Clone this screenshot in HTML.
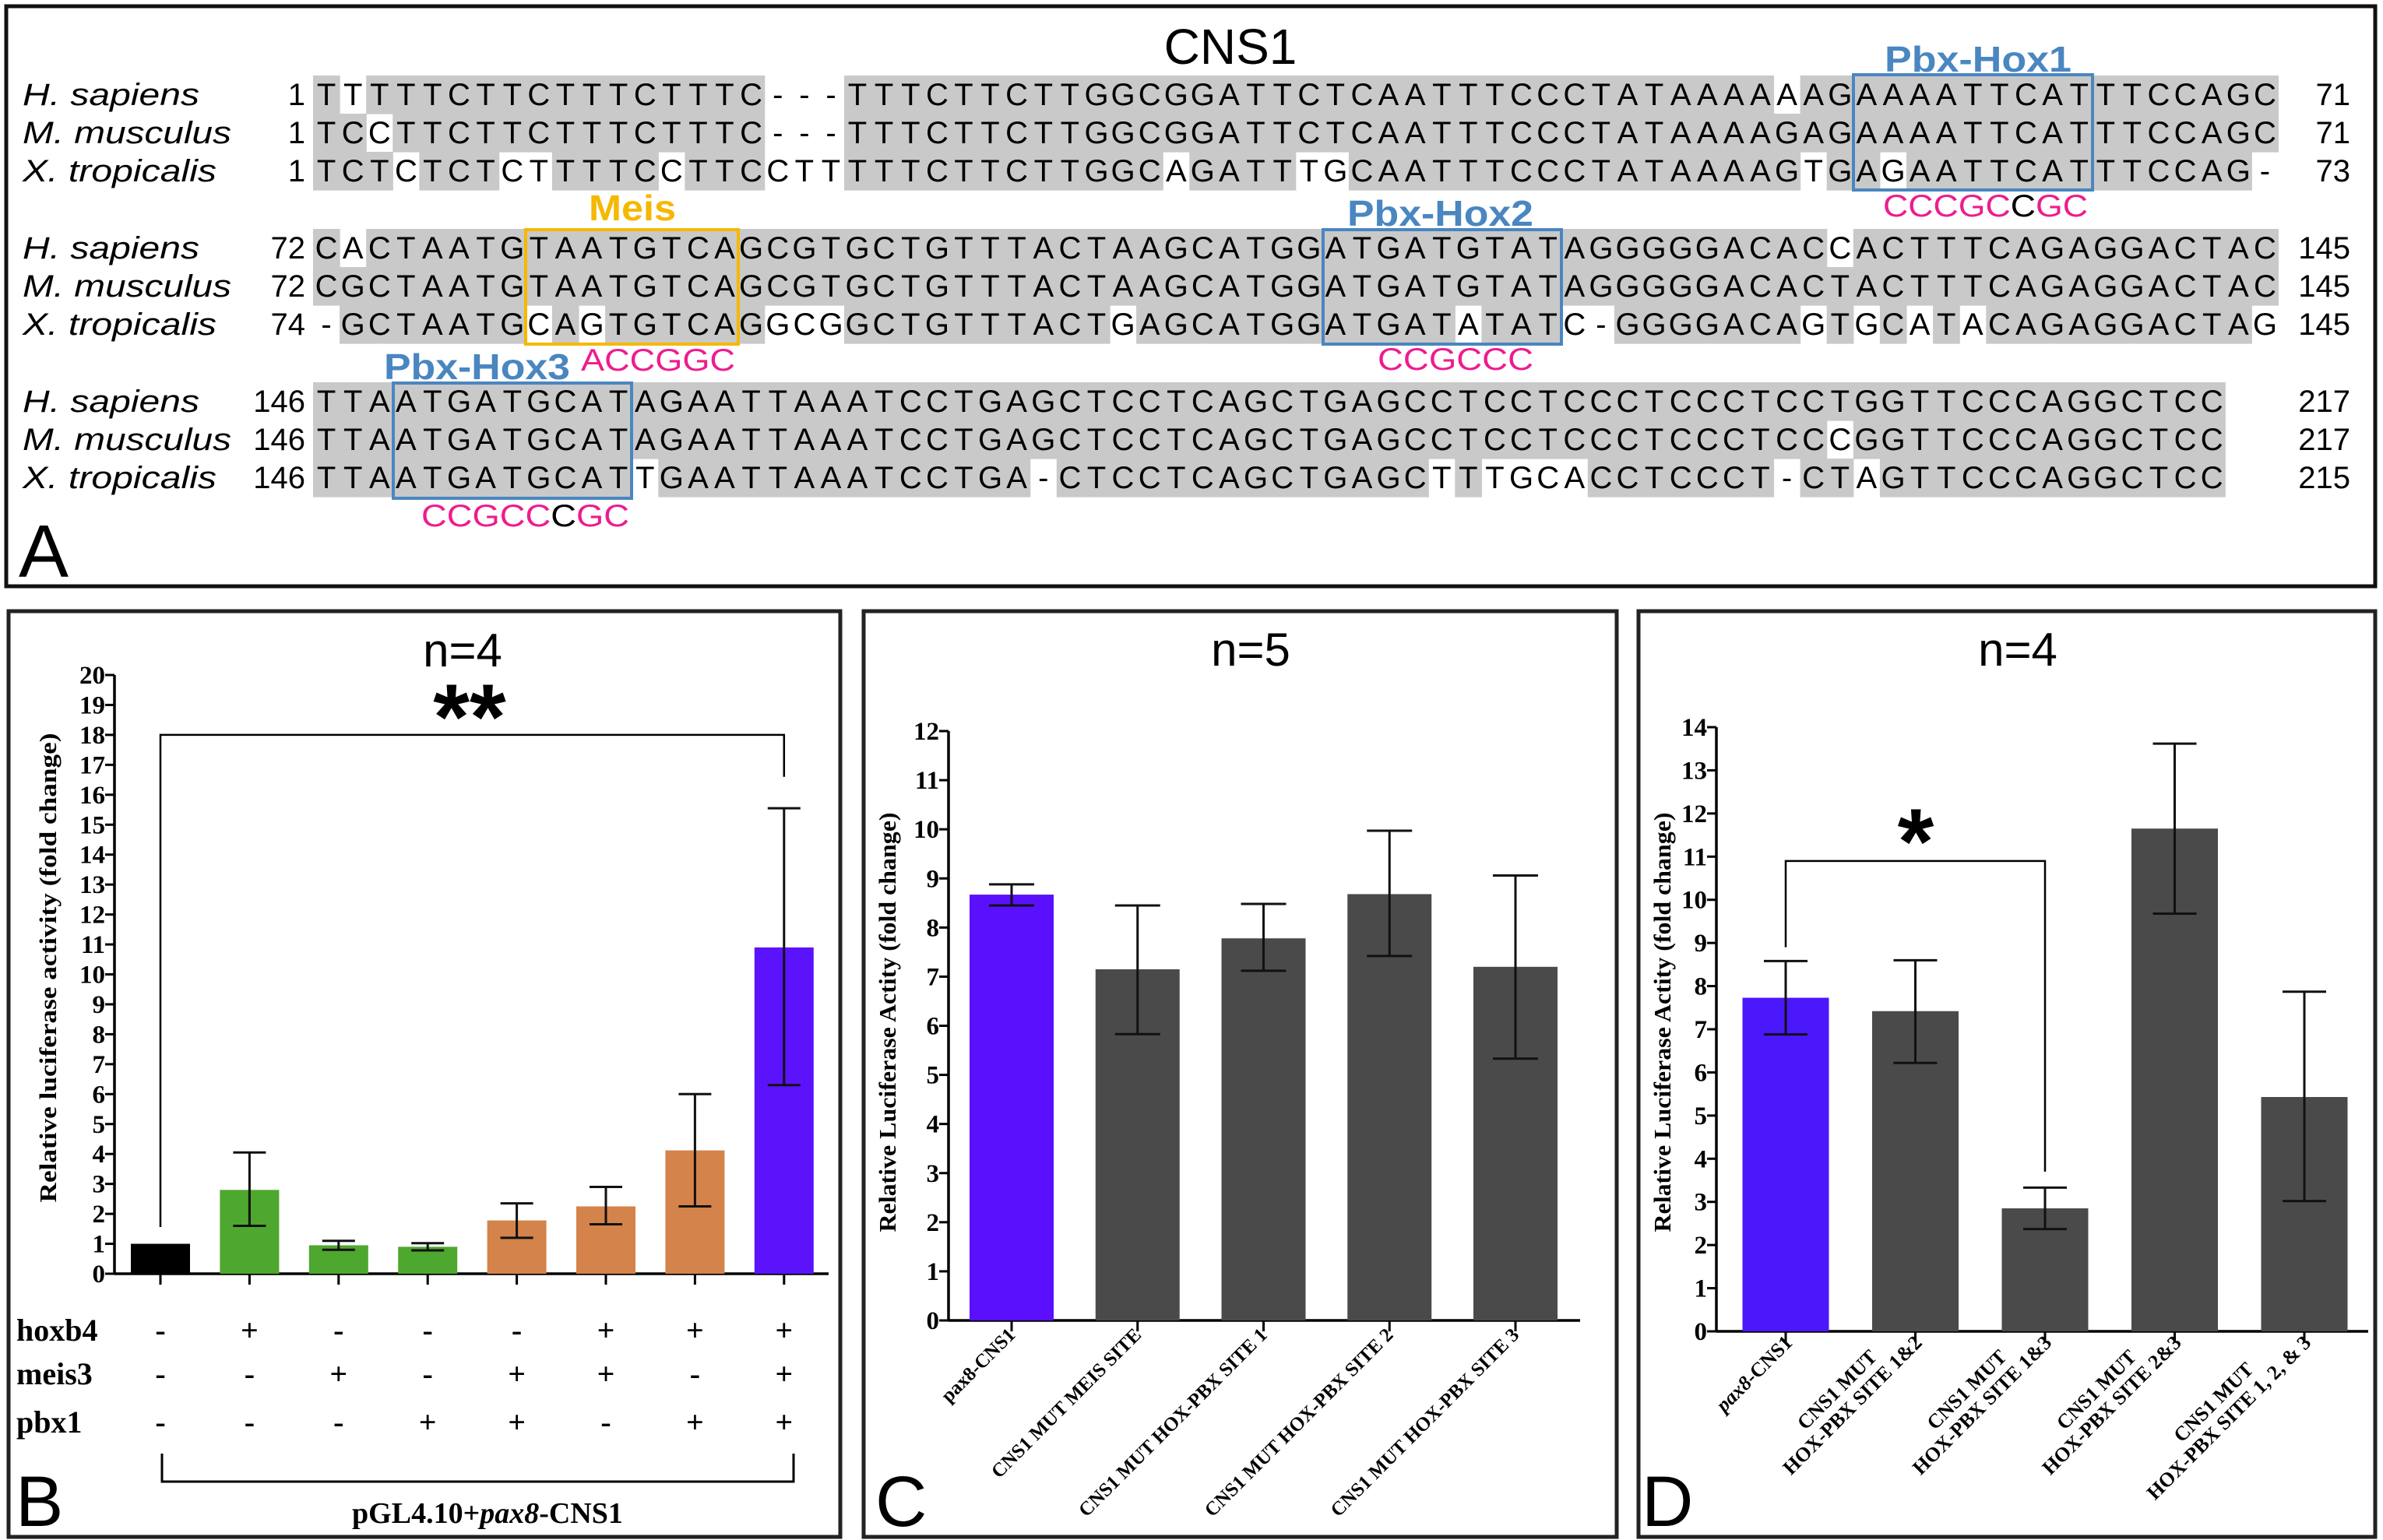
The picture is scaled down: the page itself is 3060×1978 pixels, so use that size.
<!DOCTYPE html>
<html><head><meta charset="utf-8"><style>
html,body{margin:0;padding:0;background:#fff;}
svg{display:block;}
.seq{font-family:"Liberation Sans",sans-serif;font-size:40px;}
.ser{font-family:"Liberation Serif",serif;font-weight:bold;}
.sans{font-family:"Liberation Sans",sans-serif;}
</style></head><body>
<svg id="fig" width="3060" height="1978" viewBox="0 0 3060 1978" xmlns="http://www.w3.org/2000/svg">
<rect x="0" y="0" width="3060" height="1978" fill="#fff"/>
<!-- Panel A -->
<g id="panelA">
<rect x="8" y="8" width="3042" height="745" fill="none" stroke="#111" stroke-width="5"/>
<text x="1580" y="82" class="sans" font-size="64" text-anchor="middle">CNS1</text>
<text x="24" y="741" class="sans" font-size="96">A</text>
<g id="seqLayer"></g>
<rect x="2380" y="96" width="307" height="148" fill="none" stroke="#4a86c0" stroke-width="4"/>
<text x="2420" y="92" class="sans" font-weight="bold" font-size="46" fill="#4a86c0" textLength="240" lengthAdjust="spacingAndGlyphs">Pbx-Hox1</text>
<text x="2418" y="278" class="sans" font-size="40" fill="#ee1c8e" textLength="263" lengthAdjust="spacingAndGlyphs">CCCGC<tspan fill="#000">C</tspan>GC</text>
<rect x="675" y="295" width="273" height="147" fill="none" stroke="#f5b800" stroke-width="4"/>
<text x="756" y="283" class="sans" font-weight="bold" font-size="46" fill="#f5b800" textLength="112" lengthAdjust="spacingAndGlyphs">Meis</text>
<text x="746" y="476" class="sans" font-size="40" fill="#ee1c8e" textLength="198" lengthAdjust="spacingAndGlyphs">ACCGGC</text>
<rect x="1699" y="295" width="306" height="147" fill="none" stroke="#4a86c0" stroke-width="4"/>
<text x="1730" y="290" class="sans" font-weight="bold" font-size="46" fill="#4a86c0" textLength="239" lengthAdjust="spacingAndGlyphs">Pbx-Hox2</text>
<text x="1769" y="475" class="sans" font-size="40" fill="#ee1c8e" textLength="200" lengthAdjust="spacingAndGlyphs">CCGCCC</text>
<rect x="505" y="492" width="306" height="148" fill="none" stroke="#4a86c0" stroke-width="4"/>
<text x="493" y="487" class="sans" font-weight="bold" font-size="46" fill="#4a86c0" textLength="239" lengthAdjust="spacingAndGlyphs">Pbx-Hox3</text>
<text x="541" y="676" class="sans" font-size="40" fill="#ee1c8e" textLength="267" lengthAdjust="spacingAndGlyphs">CCGCC<tspan fill="#000">C</tspan>GC</text>
</g>
<!-- Panel B -->
<g id="panelB">
<rect x="11" y="785" width="1068" height="1189" fill="none" stroke="#222" stroke-width="5"/>
<text x="594" y="856" class="sans" font-size="60" text-anchor="middle">n=4</text>
<text x="20" y="1960" class="sans" font-size="92">B</text>
</g>
<g id="panelC">
<rect x="1109" y="785" width="967" height="1189" fill="none" stroke="#222" stroke-width="5"/>
<text x="1606" y="855" class="sans" font-size="60" text-anchor="middle">n=5</text>
<text x="1124" y="1960" class="sans" font-size="92">C</text>
</g>
<g id="panelD">
<rect x="2104" y="785" width="946" height="1189" fill="none" stroke="#222" stroke-width="5"/>
<text x="2591" y="855" class="sans" font-size="60" text-anchor="middle">n=4</text>
<text x="2108" y="1960" class="sans" font-size="92">D</text>
</g>
</svg>
<script>
const NS='http://www.w3.org/2000/svg';
// ---------- Alignment data ----------
const species=['H. sapiens','M. musculus','X. tropicalis'];
const speciesLen=[227,268,249];
const block1=['TTTTTCTTCTTTCTTTC---TTTCTTCTTGGCGGATTCTCAATTTCCCTATAAAAAAGAAAATTCATTTCCAGC',
'TCCTTCTTCTTTCTTTC---TTTCTTCTTGGCGGATTCTCAATTTCCCTATAAAAGAGAAAATTCATTTCCAGC',
'TCTCTCTCTTTTCCTTCCTTTTTCTTCTTGGCAGATTTGCAATTTCCCTATAAAAGTGAGAATTCATTTCCAG-'];
const block2=['CACTAATGTAATGTCAGCGTGCTGTTTACTAAGCATGGATGATGTATAGGGGGACACCACTTTCAGAGGACTAC',
'CGCTAATGTAATGTCAGCGTGCTGTTTACTAAGCATGGATGATGTATAGGGGGACACTACTTTCAGAGGACTAC',
'-GCTAATGCAGTGTCAGGCGGCTGTTTACTGAGCATGGATGATATATC-GGGGACAGTGCATACAGAGGACTAG'];
const block3=['TTAATGATGCATAGAATTAAATCCTGAGCTCCTCAGCTGAGCCTCCTCCCTCCCTCCTGGTTCCCAGGCTCC',
'TTAATGATGCATAGAATTAAATCCTGAGCTCCTCAGCTGAGCCTCCTCCCTCCCTCCCGGTTCCCAGGCTCC',
'TTAATGATGCATTGAATTAAATCCTGA-CTCCTCAGCTGAGCTTTGCACCTCCCT-CTAGTTCCCAGGCTCC'];
const startNums=[['1','1','1'],['72','72','74'],['146','146','146']];
const endNums=[['71','71','73'],['145','145','145'],['217','217','215']];
const blocks=[block1,block2,block3];
const blockTops=[97,294,491];
const CW=34.1, SX=402, RH=49;
const seqLayer=document.getElementById('seqLayer');
blocks.forEach((blk,b)=>{
  const top=blockTops[b];
  blk.forEach((seq,r)=>{
    const y=top+r*RH;
    for(let c=0;c<seq.length;c++){
      const ch=seq[c];
      let shade=false;
      if(ch!=='-'){for(let o=0;o<blk.length;o++){if(o!==r&&blk[o][c]===ch)shade=true;}}
      if(shade){
        const rc=document.createElementNS(NS,'rect');
        rc.setAttribute('x',SX+c*CW);rc.setAttribute('y',y);
        rc.setAttribute('width',CW+0.6);rc.setAttribute('height',RH+0.6);
        rc.setAttribute('fill','#c9c9c9');
        
        
        seqLayer.appendChild(rc);
      }
    }
    const t=document.createElementNS(NS,'text');
    t.setAttribute('class','seq');
    t.setAttribute('y',y+38);
    t.setAttribute('x',Array.from(seq).map((_,c)=>(SX+c*CW+CW/2).toFixed(1)).join(' '));
    t.setAttribute('text-anchor','middle');
    t.textContent=seq;
    
    
    seqLayer.appendChild(t);
    const sp=document.createElementNS(NS,'text');
    sp.setAttribute('class','seq');sp.setAttribute('font-style','italic');
    sp.setAttribute('x',29);sp.setAttribute('y',y+38);
    sp.setAttribute('textLength',speciesLen[r]);sp.setAttribute('lengthAdjust','spacingAndGlyphs');
    sp.textContent=species[r];
    
    
    seqLayer.appendChild(sp);
    const sn=document.createElementNS(NS,'text');
    sn.setAttribute('class','seq');sn.setAttribute('x',392);sn.setAttribute('y',y+38);
    sn.setAttribute('text-anchor','end');sn.textContent=startNums[b][r];
    
    
    seqLayer.appendChild(sn);
    const en=document.createElementNS(NS,'text');
    en.setAttribute('class','seq');en.setAttribute('x',3018);en.setAttribute('y',y+38);
    en.setAttribute('text-anchor','end');en.textContent=endNums[b][r];
    
    
    seqLayer.appendChild(en);
  });
});

// ---------- Chart data ----------
const bCats=['control','hoxb4','meis3','pbx1','meis3+pbx1','hoxb4+meis3','hoxb4+pbx1','hoxb4+meis3+pbx1'];
const bVals=[1.0,2.8,0.95,0.9,1.78,2.25,4.12,10.9];
const bLow=[1.0,1.6,0.8,0.78,1.2,1.65,2.25,6.3];
const bHigh=[1.0,4.05,1.1,1.02,2.35,2.9,6.0,15.55];
const bTicks=['0','1','2','3','4','5','6','7','8','9','10','11','12','13','14','15','16','17','18','19','20'];
const bHoxb4=['-','+','-','-','-','+','+','+'];
const bMeis3=['-','-','+','-','+','+','-','+'];
const bPbx1=['-','-','-','+','+','-','+','+'];

const cCats=['pax8-CNS1','CNS1 MUT MEIS SITE','CNS1 MUT HOX-PBX SITE 1','CNS1 MUT HOX-PBX SITE 2','CNS1 MUT HOX-PBX SITE 3'];
const cVals=[8.67,7.15,7.78,8.68,7.2];
const cLow=[8.45,5.83,7.12,7.42,5.33];
const cHigh=[8.88,8.45,8.48,9.97,9.06];
const cTicks=['0','1','2','3','4','5','6','7','8','9','10','11','12'];

const dCats1=['','CNS1 MUT','CNS1 MUT','CNS1 MUT','CNS1 MUT'];
const dCats2=['pax8-CNS1','HOX-PBX SITE 1&2','HOX-PBX SITE 1&3','HOX-PBX SITE 2&3','HOX-PBX SITE 1, 2, & 3'];
const dVals=[7.73,7.42,2.85,11.65,5.43];
const dLow=[6.88,6.22,2.37,9.68,3.02];
const dHigh=[8.58,8.6,3.33,13.62,7.87];
const dTicks=['0','1','2','3','4','5','6','7','8','9','10','11','12','13','14'];

function el(tag,attrs,parent){const e=document.createElementNS(NS,tag);for(const k in attrs)e.setAttribute(k,attrs[k]);parent.appendChild(e);return e;}

function chart(o){
  const g=document.getElementById(o.panel);
  const ys=v=>o.y0-v*(o.y0-o.yTop)/o.max;
  const xs=i=>o.x0c+i*o.step;
  // axes
  const ya=el('line',{x1:o.ax,y1:ys(0),x2:o.ax,y2:ys(o.max),stroke:'#000','stroke-width':3.5},g);
  
  
  const xa=el('line',{x1:o.ax,y1:ys(0),x2:o.xEnd,y2:ys(0),stroke:'#000','stroke-width':3.5},g);
  
  
  o.ticks.forEach((tl,i)=>{
    const v=parseFloat(tl);
    const tk=el('line',{x1:o.ax-12,y1:ys(v),x2:o.ax,y2:ys(v),stroke:'#000','stroke-width':3},g);
    
    
    const t=el('text',{x:o.ax-12,y:ys(v)+11,'text-anchor':'end',class:'ser','font-size':o.tickFont},g);
    t.textContent=tl;
    
    
  });
  const yt=el('text',{x:0,y:0,class:'ser','font-size':o.titleFont,'text-anchor':'middle',transform:`translate(${o.titleX},${o.titleY}) rotate(-90)`,textLength:o.titleLen,lengthAdjust:'spacingAndGlyphs'},g);
  yt.textContent=o.title;
  
  
  o.vals.forEach((v,i)=>{
    const cx=xs(i);
    const r=el('rect',{x:cx-o.bw/2,y:ys(v),width:o.bw,height:ys(0)-ys(v),fill:o.colors[i]},g);
    
    
    const tk=el('line',{x1:cx,y1:ys(0),x2:cx,y2:ys(0)+14,stroke:'#000','stroke-width':3},g);
    
    
    if(o.high[i]>o.low[i]){
      const e=el('path',{d:`M${cx},${ys(o.low[i])}V${ys(o.high[i])}M${cx-o.cap/2},${ys(o.low[i])}H${cx+o.cap/2}M${cx-o.cap/2},${ys(o.high[i])}H${cx+o.cap/2}`,stroke:'#111','stroke-width':3,fill:'none'},g);
      
      
    }
  });
  return {ys,xs,g};
}

// Panel B
const B=chart({panel:'panelB',x0c:206,step:114.4,ax:147,xEnd:1064,y0:1636,yTop:867,max:20,bw:76,cap:42,
  vals:bVals,low:bLow,high:bHigh,ticks:bTicks,tickFont:33,titleFont:31,titleX:72,titleY:1243,titleLen:603,
  title:'Relative luciferase activity (fold change)',
  colors:['#000','#4ea72e','#4ea72e','#4ea72e','#d4834a','#d4834a','#d4834a','#5b13fb']});
const bBr=el('path',{d:`M${B.xs(0)},${B.ys(1.56)}V${B.ys(18)}H${B.xs(7)}V${B.ys(16.6)}`,stroke:'#000','stroke-width':2.5,fill:'none'},B.g);


const bSt=el('text',{x:603,y:962,'text-anchor':'middle',class:'sans','font-weight':'bold','font-size':120},B.g);
bSt.textContent='**';


const rowNames=['hoxb4','meis3','pbx1'];
const rowY=[1722,1778,1840];
[bHoxb4,bMeis3,bPbx1].forEach((row,ri)=>{
  const lab=el('text',{x:21,y:rowY[ri],class:'ser','font-size':40},B.g);
  lab.textContent=rowNames[ri];
  
  
  row.forEach((s,i)=>{
    const t=el('text',{x:B.xs(i),y:rowY[ri],'text-anchor':'middle',class:'ser','font-size':40},B.g);
    t.textContent=s;
    
    
  });
});
const bb=el('path',{d:`M208,1867V1903H1019V1867`,stroke:'#000','stroke-width':3,fill:'none'},B.g);


const bl=el('text',{x:626,y:1956,'text-anchor':'middle',class:'ser','font-size':38},B.g);
bl.innerHTML='pGL4.10+<tspan font-style="italic">pax8</tspan>-CNS1';



// Panel C
const C=chart({panel:'panelC',x0c:1299,step:161.75,ax:1218,xEnd:2029,y0:1696,yTop:939,max:12,bw:108,cap:58,
  vals:cVals,low:cLow,high:cHigh,ticks:cTicks,tickFont:33,titleFont:31,titleX:1150,titleY:1313,titleLen:539,
  title:'Relative Luciferase Actity (fold change)',
  colors:['#5a10fc','#4a4a4a','#4a4a4a','#4a4a4a','#4a4a4a']});
cCats.forEach((c,i)=>{
  const t=el('text',{x:0,y:0,'text-anchor':'end',class:'ser','font-size':25,transform:`translate(${C.xs(i)+6},${C.ys(0)+20}) rotate(-45)`},C.g);
  t.textContent=c;
  
  
});

// Panel D
const D=chart({panel:'panelD',x0c:2293,step:166.5,ax:2204,xEnd:3041,y0:1710,yTop:934,max:14,bw:111,cap:56,
  vals:dVals,low:dLow,high:dHigh,ticks:dTicks,tickFont:33,titleFont:31,titleX:2145,titleY:1313,titleLen:539,
  title:'Relative Luciferase Actity (fold change)',
  colors:['#4b17fb','#4a4a4a','#4a4a4a','#4a4a4a','#4a4a4a']});
const dBr=el('path',{d:`M${D.xs(0)},${D.ys(8.9)}V${D.ys(10.9)}H${D.xs(2)}V${D.ys(3.7)}`,stroke:'#000','stroke-width':2.5,fill:'none'},D.g);


const dSt=el('text',{x:2460,y:1122,'text-anchor':'middle',class:'sans','font-weight':'bold','font-size':120},D.g);
dSt.textContent='*';


dCats2.forEach((c,i)=>{
  const grp=el('g',{transform:`translate(${D.xs(i)+10},${D.ys(0)+16}) rotate(-45)`},D.g);
  const t2=el('text',{x:0,y:0,'text-anchor':'end',class:'ser','font-size':26},grp);
  if(i===0){t2.innerHTML='<tspan font-style="italic">pax8</tspan>-CNS1';}else{t2.textContent=c;}
  
  
  if(dCats1[i]){
    const L=t2.getComputedTextLength();
    const t1=el('text',{x:-L/2,y:-28,'text-anchor':'middle',class:'ser','font-size':26},grp);
    t1.textContent=dCats1[i];
    
    
  }
});
</script>
</body></html>
